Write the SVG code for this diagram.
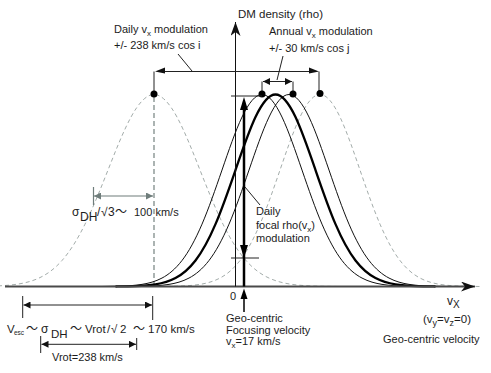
<svg xmlns="http://www.w3.org/2000/svg" xmlns:xlink="http://www.w3.org/1999/xlink" width="491" height="373" viewBox="0 0 491 373">
<style>
text{font-family:"Liberation Sans",Arial,sans-serif;font-size:11px;fill:#1c1c1c}
.tl{font-family:"Noto Sans CJK JP","Liberation Sans",sans-serif;font-size:11px}
.thin{fill:none;stroke:#111;stroke-width:1}
.bold{fill:none;stroke:#000;stroke-width:2.3}
.dash{fill:none;stroke:#a3acaa;stroke-width:1;stroke-dasharray:4 3}
.ln{fill:none;stroke:#222;stroke-width:1}
.gr{fill:none;stroke:#6f7d7b;stroke-width:1.2}
</style>
<defs>
<path id="g40" d="M-160,0 C-153.33,-0.1 -146.67,-0.18 -140,-0.42 C-133.33,-0.66 -126.67,-1.06 -120,-2.13 C-113.33,-3.2 -106.67,-4.93 -100,-8.44 C-93.33,-11.95 -86.67,-17.33 -80,-25.99 C-73.33,-34.65 -66.67,-46.75 -60,-62.33 C-53.33,-77.91 -46.67,-97.04 -40,-116.45 C-33.33,-135.86 -26.67,-155.32 -20,-169.44 C-13.33,-183.56 -6.67,-192 0,-192 C6.67,-192 13.33,-183.56 20,-169.44 C26.67,-155.32 33.33,-135.86 40,-116.45 C46.67,-97.04 53.33,-77.91 60,-62.33 C66.67,-46.75 73.33,-34.65 80,-25.99 C86.67,-17.33 93.33,-11.95 100,-8.44 C106.67,-4.93 113.33,-3.2 120,-2.13 C126.67,-1.06 133.33,-0.66 140,-0.42 C146.67,-0.18 153.33,-0.1 160,0"/>
<path id="g46" d="M-184,0 C-176.33,-0.1 -168.67,-0.18 -161,-0.42 C-153.33,-0.66 -145.67,-1.06 -138,-2.13 C-130.33,-3.2 -122.67,-4.93 -115,-8.44 C-107.33,-11.95 -99.67,-17.33 -92,-25.99 C-84.33,-34.65 -76.67,-46.75 -69,-62.33 C-61.33,-77.91 -53.67,-97.04 -46,-116.45 C-38.33,-135.86 -30.67,-155.32 -23,-169.44 C-15.33,-183.56 -7.67,-192 0,-192 C7.67,-192 15.33,-183.56 23,-169.44 C30.67,-155.32 38.33,-135.86 46,-116.45 C53.67,-97.04 61.33,-77.91 69,-62.33 C76.67,-46.75 84.33,-34.65 92,-25.99 C99.67,-17.33 107.33,-11.95 115,-8.44 C122.67,-4.93 130.33,-3.2 138,-2.13 C145.67,-1.06 153.33,-0.66 161,-0.42 C168.67,-0.18 176.33,-0.1 184,0"/>
<marker id="ah" viewBox="0 0 10 10" refX="10" refY="5" markerWidth="9" markerHeight="7" orient="auto-start-reverse" markerUnits="userSpaceOnUse"><path d="M0,0 L10,5 L0,10 z" fill="#111"/></marker>
<marker id="ahg" viewBox="0 0 10 10" refX="10" refY="5" markerWidth="9" markerHeight="7" orient="auto-start-reverse" markerUnits="userSpaceOnUse"><path d="M0,0 L10,5 L0,10 z" fill="#6f7d7b"/></marker>
<marker id="ax" viewBox="0 0 14 10" refX="14" refY="5" markerWidth="15" markerHeight="10" orient="auto" markerUnits="userSpaceOnUse"><path d="M0,0 L14,5 L0,10 L4,5 z" fill="#111"/></marker>
</defs>

<g id="curves">
<use xlink:href="#g46" x="154" y="286.5" class="dash"/>
<use xlink:href="#g40" x="320" y="286.5" class="dash"/>
<line x1="154" y1="97" x2="154" y2="286" stroke="#a3acaa" stroke-width="1.8" stroke-dasharray="5 3"/>
<use xlink:href="#g40" x="262" y="286.5" class="thin"/>
<use xlink:href="#g40" x="289" y="286.5" class="thin"/>
<use xlink:href="#g40" x="275.5" y="286.5" class="bold"/>
</g>

<g id="axes">
<line x1="5" y1="286.5" x2="475" y2="286.5" stroke="#4a4a4a" stroke-width="1.8" marker-end="url(#ax)"/>
<line x1="235.5" y1="286.5" x2="235.5" y2="22" stroke="#111" stroke-width="1" marker-end="url(#ax)"/>
<text x="238" y="18" style="font-size:11.5px">DM density (rho)</text>
<text x="230" y="300">0</text>
<text x="447" y="305" style="font-size:12px">v<tspan dy="3" style="font-size:10px">X</tspan></text>
<text x="423" y="323" style="font-size:11.5px">(v<tspan dy="3" style="font-size:9px">y</tspan><tspan dy="-3">=v</tspan><tspan dy="3" style="font-size:9px">z</tspan><tspan dy="-3">=0)</tspan></text>
<text x="383" y="343">Geo-centric velocity</text>
</g>

<g id="daily">
<line class="ln" x1="154" y1="71.5" x2="154" y2="94"/>
<line class="ln" x1="319" y1="71.5" x2="319" y2="93"/>
<line class="ln" x1="163" y1="71.5" x2="311" y2="71.5"/>
<polygon points="155,71.5 165,67.5 165,73.5" fill="#111"/>
<polygon points="319,71.5 309,67.5 309,73.5" fill="#111"/>
<line class="ln" x1="178" y1="54" x2="192" y2="71"/>
<text x="114" y="33">Daily v<tspan dy="3" style="font-size:8px">x</tspan><tspan dy="-3"> modulation</tspan></text>
<text x="114" y="49">+/- 238 km/s cos i</text>
</g>

<g id="annual">
<line class="ln" x1="262" y1="81.5" x2="262" y2="94"/>
<line class="ln" x1="293" y1="81.5" x2="293" y2="94"/>
<line class="ln" x1="263" y1="81.5" x2="292" y2="81.5" marker-start="url(#ah)" marker-end="url(#ah)"/>
<line class="ln" x1="283" y1="56" x2="277" y2="80"/>
<text x="269" y="35">Annual v<tspan dy="3" style="font-size:8px">x</tspan><tspan dy="-3"> modulation</tspan></text>
<text x="269" y="52">+/- 30 km/s cos j</text>
</g>

<g id="dots">
<circle cx="154" cy="94" r="3.5" fill="#000"/>
<circle cx="262" cy="94" r="3.5" fill="#000"/>
<circle cx="293" cy="94" r="3.5" fill="#000"/>
<circle cx="320" cy="93.5" r="3.5" fill="#000"/>
</g>

<g id="focal">
<line class="ln" x1="231" y1="96" x2="262" y2="96"/>
<line class="ln" x1="231" y1="258" x2="259" y2="258"/>
<line x1="244" y1="106" x2="244" y2="286.5" stroke="#000" stroke-width="2.5"/>
<polygon points="244,97 240,110 248,110" fill="#000"/>
<polygon points="244,258 240,245 248,245" fill="#000"/>
<line class="ln" x1="260" y1="205" x2="245" y2="187"/>
<text x="256" y="215">Daily</text>
<text x="256" y="228.5">focal rho(v<tspan dy="3" style="font-size:8px">x</tspan><tspan dy="-3">)</tspan></text>
<text x="256" y="242">modulation</text>
</g>

<g id="geo">
<line x1="244" y1="312" x2="244" y2="296" stroke="#000" stroke-width="1.5"/>
<polygon points="244,288.5 240.5,299 247.5,299" fill="#000"/>
<text x="226" y="322">Geo-centric</text>
<text x="226" y="333.5">Focusing velocity</text>
<text x="226" y="345">v<tspan dy="3" style="font-size:8px">x</tspan><tspan dy="-3">=17 km/s</tspan></text>
</g>

<g id="sigma">
<line class="gr" x1="93.5" y1="187" x2="93.5" y2="205"/>
<line class="gr" x1="94" y1="196" x2="153" y2="196" marker-start="url(#ahg)" marker-end="url(#ahg)"/>
<text x="72" y="216" style="font-size:12px">σ<tspan x="80" dy="4.5">DH</tspan><tspan x="97" dy="-4.5">/</tspan><tspan x="101">√</tspan><tspan x="108">3</tspan><tspan x="115" class="tl" style="font-size:12px">～</tspan><tspan x="134" style="font-size:11px">100 km/s</tspan></text>
</g>

<g id="vesc">
<line class="ln" x1="22.7" y1="296" x2="22.7" y2="318" stroke-width="1.3"/>
<line class="ln" x1="152.7" y1="296" x2="152.7" y2="320"/>
<line class="ln" x1="23.5" y1="305" x2="152" y2="305" marker-start="url(#ah)" marker-end="url(#ah)"/>
<text x="7" y="333" style="font-size:11.5px">V<tspan x="14" dy="2" style="font-size:6.5px">esc</tspan><tspan x="26" dy="-2" class="tl" style="font-size:12px">～</tspan><tspan x="41" style="font-size:12px">σ</tspan><tspan x="51" dy="4.5">DH</tspan><tspan x="70" dy="-4.5" class="tl" style="font-size:12px">～</tspan><tspan x="85">Vrot</tspan><tspan x="107">/</tspan><tspan x="111">√</tspan><tspan x="120">2</tspan><tspan x="133" class="tl" style="font-size:12px">～</tspan><tspan x="148">170 km/s</tspan></text>
</g>

<g id="vrot">
<line class="ln" x1="40.7" y1="336" x2="40.7" y2="353"/>
<line class="ln" x1="136.7" y1="338" x2="136.7" y2="350"/>
<line class="ln" x1="41.5" y1="344.3" x2="136" y2="344.3" marker-start="url(#ah)" marker-end="url(#ah)"/>
<text x="52" y="361">Vrot=238 km/s</text>
</g>
</svg>
